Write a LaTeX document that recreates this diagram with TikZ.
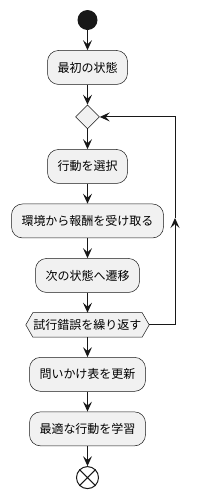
\documentclass[tikz,border=0pt]{standalone}
\usepackage{fontspec}
\newfontfamily\jpfont{Noto Sans CJK JP}
\usetikzlibrary{positioning,arrows.meta,shapes.geometric,backgrounds}
\definecolor{actfill}{HTML}{F1F1F1}
\definecolor{actline}{HTML}{181818}
\tikzset{
  act/.style={rectangle,draw=actline,fill=actfill,line width=0.5pt,rounded corners=11pt,
    minimum height=34pt,inner xsep=10pt,font=\jpfont\fontsize{12pt}{14pt}\selectfont},
  merge/.style={diamond,draw=actline,fill=actfill,line width=0.5pt,aspect=1,
    minimum width=24pt,minimum height=24pt,inner sep=0pt},
  loopcond/.style={rectangle,minimum height=24pt,minimum width=109pt,inner sep=0pt,
    font=\jpfont\fontsize{12pt}{14pt}\selectfont},
  hexfill/.style={draw=actline,fill=actfill,line width=0.5pt},
  startdot/.style={circle,fill=actline,minimum size=20pt,inner sep=0pt},
  enddot/.style={circle,draw=actline,line width=1pt,fill=white,minimum size=22pt,inner sep=0pt},
  flow/.style={-{Stealth[length=10pt,width=9pt,inset=4pt]},line width=1pt,draw=actline},
}
\begin{document}
\begin{tikzpicture}[node distance=20pt]
  \useasboundingbox (0,0) rectangle (200pt,-491pt);
  \node[startdot] (start) at (87.5pt,-20pt) {};
  \node[act,below=of start] (init) {最初の状態};
  \node[merge,below=of init] (rep) {};
  \node[act,below=of rep] (choose) {行動を選択};
  \node[act,below=of choose] (reward) {環境から報酬を受け取る};
  \node[act,below=of reward] (next) {次の状態へ遷移};
  \node[loopcond,below=of next] (trial) {試行錯誤を繰り返す};
  \coordinate (trialtip) at ([xshift=7pt]trial.east);
  \begin{scope}[on background layer]
    \draw[hexfill] (trial.north west) -- ([xshift=-7pt]trial.west) -- (trial.south west)
      -- (trial.south east) -- (trialtip) -- (trial.north east) -- cycle;
  \end{scope}
  \node[act,below=of trial] (update) {問いかけ表を更新};
  \node[act,below=of update] (learn) {最適な行動を学習};
  \node[enddot,below=of learn] (stop) {};
  \draw[actline,line width=1pt] (stop.north west) -- (stop.south east)
    (stop.north east) -- (stop.south west);
  % main flow
  \draw[flow] (start) -- (init);
  \draw[flow] (init) -- (rep);
  \draw[flow] (rep) -- (choose);
  \draw[flow] (choose) -- (reward);
  \draw[flow] (reward) -- (next);
  \draw[flow] (next) -- (trial);
  \draw[flow] (trial) -- (update);
  \draw[flow] (update) -- (learn);
  \draw[flow] (learn) -- (stop);
  % back edge
  \coordinate (backmid) at (175pt,-218pt);
  \draw[flow] (trialtip) -| (backmid);
  \draw[flow] (backmid) |- (rep.east);
\end{tikzpicture}
\end{document}
